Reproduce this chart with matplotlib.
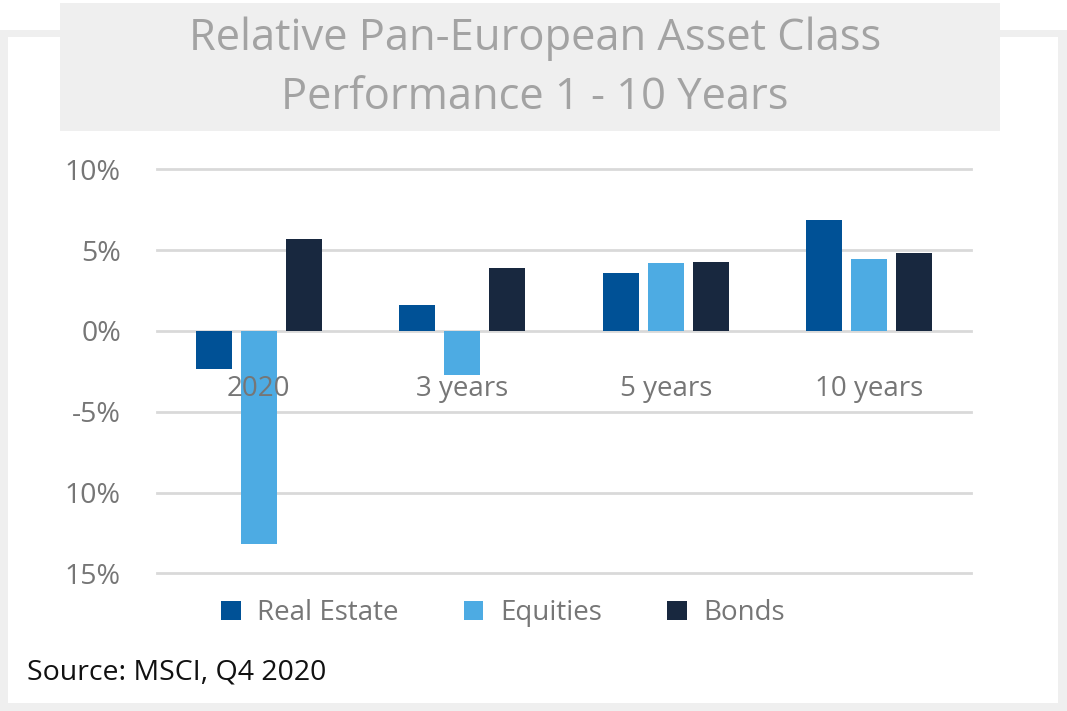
import matplotlib
matplotlib.use("Agg")
import matplotlib.pyplot as plt
from matplotlib.patches import Rectangle
import numpy as np

categories = ["2020", "3 years", "5 years", "10 years"]
series_names = ["Real Estate", "Equities", "Bonds"]
real_estate = [-2.35, 1.6, 3.57, 6.89]
equities = [-13.2, -2.7, 4.19, 4.48]
bonds = [5.67, 3.9, 4.29, 4.79]
ytick_values = [-15, -10, -5, 0, 5, 10]
ytick_labels = ["15%", "10%", "-5%", "0%", "5%", "10%"]
title_lines = ["Relative Pan-European Asset Class", "Performance 1 - 10 Years"]
source = "Source: MSCI, Q4 2020"

colors = ["#005196", "#4DABE3", "#18283F"]
W, H = 1067, 711
plt.rcParams['font.family'] = ['Open Sans', 'DejaVu Sans']

fig = plt.figure(figsize=(W / 100, H / 100), dpi=100)
fig.patch.set_facecolor("white")

def px(x, y):
    return x / W, 1 - y / H

# outer frame (light gray)
frame_col = "#EFEFEF"
fig.patches.append(Rectangle((0, 0), 1, (H - 30) / H, transform=fig.transFigure,
                             facecolor=frame_col, edgecolor="none", zorder=-3))
fig.patches.append(Rectangle((8 / W, 8 / H), (1058 - 8) / W, (703 - 37) / H,
                             transform=fig.transFigure, facecolor="white",
                             edgecolor="none", zorder=-2))
# title box
fig.patches.append(Rectangle((60 / W, 1 - 131 / H), (1000 - 60) / W, (131 - 3) / H,
                             transform=fig.transFigure, facecolor=frame_col,
                             edgecolor="none", zorder=-1))
for ty, line in zip([39, 98], title_lines):
    fig.text(535 / W, 1 - ty / H, line, ha="center", va="center", fontsize=31.3,
             color="#A3A3A3")

ax = fig.add_axes([157 / W, (H - 573.3) / H, 814 / W, (573.3 - 169.3) / H])
ax.set_zorder(3)
ax.set_facecolor("none")
x = np.arange(len(categories))
step = 0.221
bw = 0.177
for i, (name, vals) in enumerate(zip(series_names, [real_estate, equities, bonds])):
    ax.bar(x + (i - 1) * step, vals, width=bw, color=colors[i], label=name, zorder=3)

for v in ytick_values:
    ax.axhline(v, color="#D9D9D9", lw=2, zorder=1, clip_on=False)

ax.set_xlim(-0.5, len(categories) - 0.5)
ax.set_ylim(-15, 10)
ax.set_yticks(ytick_values)
ax.set_yticklabels(ytick_labels, fontsize=20.5, color="#767676")
ax.tick_params(axis="y", length=0, pad=26)
ax.set_xticks([])
for s in ax.spines.values():
    s.set_visible(False)

for i, c in enumerate(categories):
    ax.text(i, -4.04, c, ha="center", va="baseline", fontsize=20, color="#767676", zorder=5)

handles, labels = ax.get_legend_handles_labels()
leg = fig.legend(handles, labels, loc="center", bbox_to_anchor=px(503, 613), ncol=3,
                 frameon=False, fontsize=20, handlelength=0.7, handleheight=0.7,
                 columnspacing=2.35, handletextpad=0.6)
for t in leg.get_texts():
    t.set_color("#767676")

fig.text(27 / W, 1 - 680 / H, source, ha="left", va="baseline", fontsize=20.5, color="#111111")

fig.savefig("out.png", dpi=100)
